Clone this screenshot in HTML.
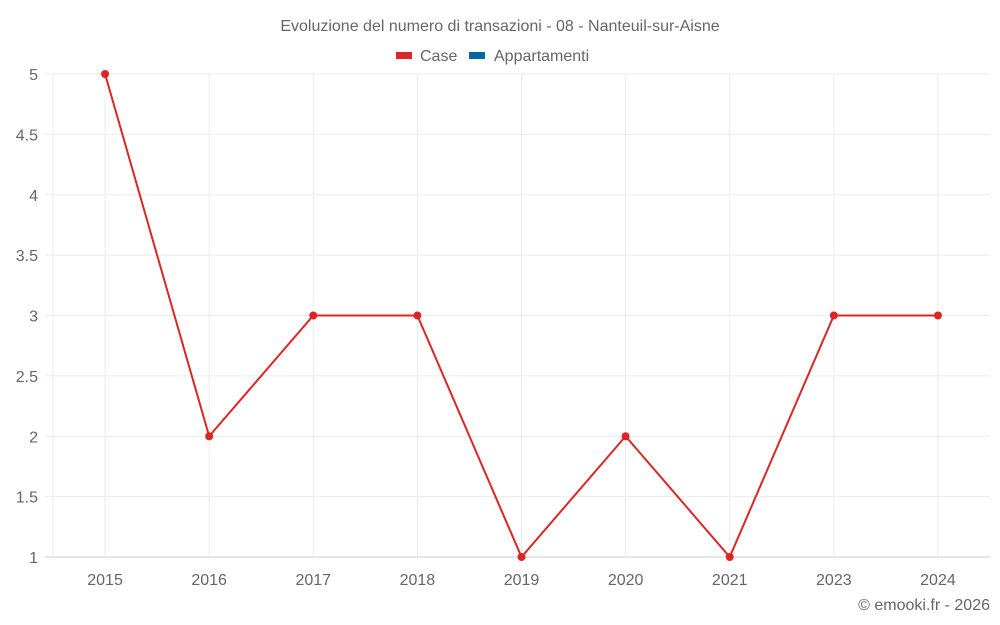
<!DOCTYPE html>
<html><head><meta charset="utf-8"><style>
body{margin:0;background:#fff;}
svg{display:block;font-family:"Liberation Sans",sans-serif;}
</style></head><body>
<svg id="c" width="1000" height="625">
<text x="500" y="31" text-anchor="middle" font-size="16" fill="#666">Evoluzione del numero di transazioni - 08 - Nanteuil-sur-Aisne</text>
<g>
<g><rect x="396" y="52" width="16" height="7" fill="#dc2626"/><text x="420" y="61" font-size="16" fill="#666">Case</text></g>
<g><rect x="469" y="52" width="16" height="7" fill="#0369a1"/><text x="494" y="61" font-size="16" fill="#666">Appartamenti</text></g>
</g>
<g id="grid"></g>
<g id="axes"></g>
<g id="series"></g>
<text x="990" y="610" text-anchor="end" font-size="16" fill="#666">© emooki.fr - 2026</text>
</svg>
<script>
const categories=["2015","2016","2017","2018","2019","2020","2021","2023","2024"];
const caseValues=[5,2,3,3,1,2,1,3,3];
const yTicks=[1,1.5,2,2.5,3,3.5,4,4.5,5];
const NS="http://www.w3.org/2000/svg";
const L=53,R=990,T=74,B=557,yMin=1,yMax=5;
const bw=(R-L)/categories.length;
const x=i=>L+bw*(i+0.5);
const y=v=>B-(v-yMin)/(yMax-yMin)*(B-T);
function mk(tag,attrs,parent){const e=document.createElementNS(NS,tag);for(const k in attrs)e.setAttribute(k,attrs[k]);parent.appendChild(e);return e;}
const g=document.getElementById('grid'),ax=document.getElementById('axes'),s=document.getElementById('series');
yTicks.forEach(t=>{
 const l=mk('line',{x1:45,x2:R,y1:y(t),y2:y(t),stroke:t===yMin?'#ccc':'#ebebeb'},g);
 
 
 const tx=mk('text',{x:38,y:y(t)+6,'text-anchor':'end','font-size':16,fill:'#666'},ax);
 tx.textContent=String(t);
 
 
});
mk('line',{x1:L,x2:L,y1:T,y2:B,stroke:'#ebebeb'},g);
categories.forEach((c,i)=>{
 const l=mk('line',{x1:x(i),x2:x(i),y1:T,y2:B,stroke:'#ebebeb'},g);
 
 
 const tx=mk('text',{x:x(i),y:585,'text-anchor':'middle','font-size':16,fill:'#666'},ax);
 tx.textContent=c;
 
 
});
const p=mk('polyline',{points:caseValues.map((v,i)=>x(i)+','+y(v)).join(' '),fill:'none',stroke:'#dc2626','stroke-width':2},s);


caseValues.forEach((v,i)=>{
 const c=mk('circle',{cx:x(i),cy:y(v),r:4,fill:'#dc2626'},s);
 
 
});
</script>
</body></html>
